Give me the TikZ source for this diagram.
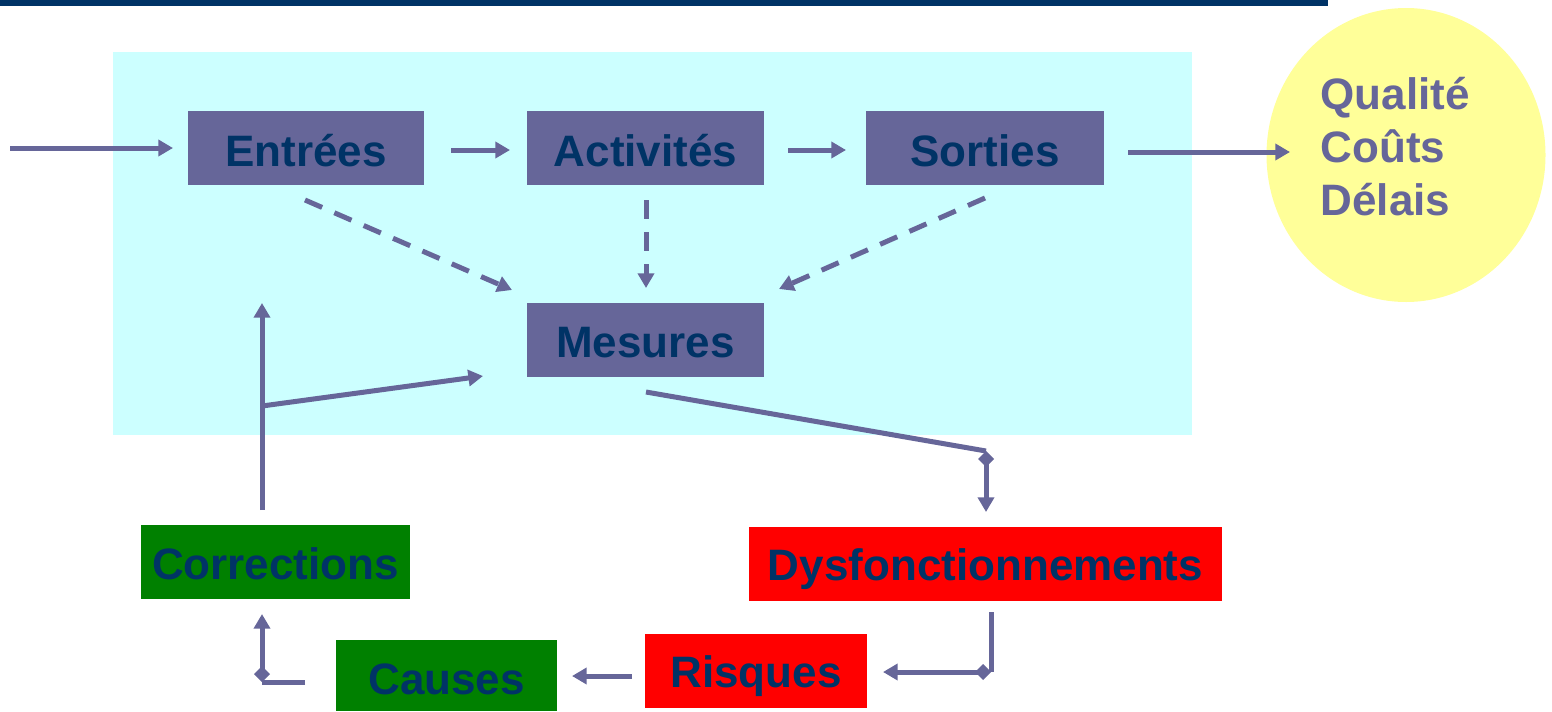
\documentclass[tikz,border=0pt]{standalone}
\usepackage{fontspec}
\setmainfont{Liberation Sans}
\usetikzlibrary{arrows.meta,shapes.geometric}
\definecolor{navy}{RGB}{0,51,102}
\definecolor{lila}{RGB}{102,102,153}
\definecolor{cyanbg}{RGB}{204,255,255}
\definecolor{yel}{RGB}{255,255,153}
\definecolor{grn}{RGB}{0,128,0}
\definecolor{rd}{RGB}{255,0,0}
\newcommand{\lowr}[2]{\raisebox{-#1}[\height][\depth]{#2}}
\tikzset{
  box/.style={inner sep=0pt, minimum height=55.5pt, text=navy,
    font=\fontsize{33}{38}\selectfont\bfseries},
  conn/.style={draw=lila, line width=3.75pt, -{Triangle[length=11pt,width=12pt]}},
  dconn/.style={conn, dash pattern=on 14pt off 10pt},
  plain/.style={draw=lila, line width=3.75pt},
  corner/.style={draw=lila, line width=3.75pt, {Diamond[length=12pt,width=12pt]}-{Triangle[length=11pt,width=12pt]}}
}
\begin{document}
\begin{tikzpicture}[x=0.75pt,y=-0.75pt]
\useasboundingbox (0,0) rectangle (1552,711);
\fill[navy] (0,0) rectangle (1328,6);
\fill[cyanbg] (113,52) rectangle (1192,435);
\node[ellipse, fill=yel, minimum width=209.25pt, minimum height=220.5pt, inner sep=0pt] (qcd) at (1406,155) {};
\node[anchor=west, text=lila, align=left, font=\fontsize{33}{39.75}\selectfont\bfseries] (qcdt) at (1316,147) {Qualité\\Coûts\\Délais};

\node[box, fill=lila, minimum width=177pt] (ent) at (306,148) {\lowr{2pt}{Entrées}};
\node[box, fill=lila, minimum width=177.75pt] (act) at (645.5,148) {\lowr{2pt}{Activités}};
\node[box, fill=lila, minimum width=178.5pt] (sor) at (985,148) {\lowr{2pt}{Sorties}};
\node[box, fill=lila, minimum width=177.75pt] (mes) at (645.5,340) {\lowr{2pt}{Mesures}};
\node[box, fill=grn, minimum width=201.75pt] (cor) at (275.5,562) {\lowr{1pt}{Corrections}};
\node[box, fill=rd, minimum width=354.75pt] (dys) at (985.5,564) {\lowr{4pt}{Dysfonctionnements}};
\node[box, fill=rd, minimum width=166.5pt] (ris) at (756,671) {\lowr{4pt}{Risques}};
\node[box, fill=grn, minimum width=165.75pt, minimum height=53.25pt] (cau) at (446.5,675.5) {\lowr{3pt}{Causes}};

% coordinates for connector ends
\coordinate (in0) at (10,148);
\coordinate (entL) at (173,148);
\coordinate (entR) at (451,150);
\coordinate (actL) at (510,150);
\coordinate (actR) at (788,150);
\coordinate (sorL) at (846,150);
\coordinate (sorR) at (1128,152);
\coordinate (qcdL) at (1290,152);
\coordinate (entB) at (305,200);
\coordinate (mesTL) at (512,290);
\coordinate (actB) at (646,200);
\coordinate (mesT) at (646,288);
\coordinate (sorB) at (985,198);
\coordinate (mesTR) at (779,289);
\coordinate (corT) at (262,510);
\coordinate (upEnd) at (262,303);
\coordinate (branch) at (262,406);
\coordinate (mesL) at (483,376);
\coordinate (mesB) at (646,392);
\coordinate (c1) at (986,451);
\coordinate (dysT) at (986,512);
\coordinate (dysB) at (991,612);
\coordinate (c2) at (991,672);
\coordinate (risR) at (883,672);
\coordinate (risL) at (632,676);
\coordinate (cauR) at (572,676);
\coordinate (cauL) at (305,682);
\coordinate (c3) at (262,682);
\coordinate (corB) at (262,614);

\draw[conn] (in0) -- (entL);
\draw[conn] (entR) -- (actL);
\draw[conn] (actR) -- (sorL);
\draw[conn] (sorR) -- (qcdL);
\draw[dconn] (entB) -- (mesTL);
\draw[dconn] (actB) -- (mesT);
\draw[dconn] (sorB) -- (mesTR);
\draw[conn] (corT) -- (upEnd);
\draw[conn] (branch) -- (mesL);
\draw[plain] (mesB) -- (c1);
\draw[corner] (c1) -- (dysT);
\draw[plain] (dysB) -- (c2);
\draw[corner] (c2) -- (risR);
\draw[conn] (risL) -- (cauR);
\draw[plain] (cauL) -- (c3);
\draw[corner] (c3) -- (corB);
\end{tikzpicture}
\end{document}
